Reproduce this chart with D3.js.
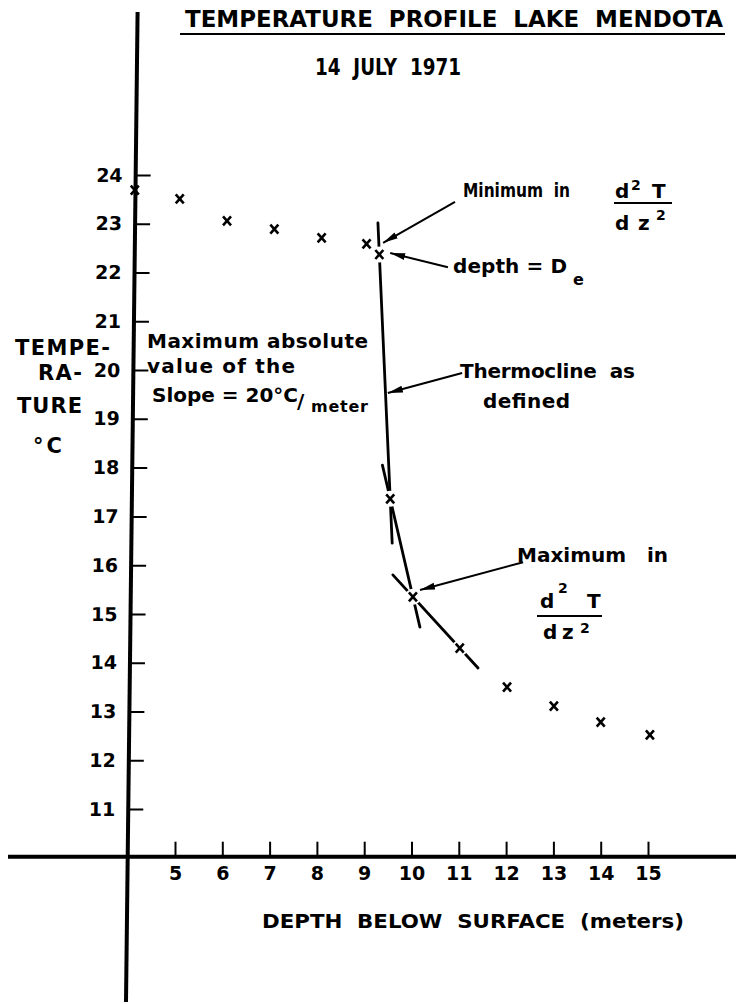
<!DOCTYPE html>
<html><head><meta charset="utf-8">
<script src="https://cdn.jsdelivr.net/npm/d3@7"></script>
<style>
body{margin:0;background:#fff}
svg{display:block;background:#fff}
text{font-family:"DejaVu Sans",sans-serif;fill:#000;white-space:pre}
</style>
</head><body>
<svg id="c" width="736" height="1004"></svg>
<script>
// ---- data ----
const depths = [4.15, 5.1, 6.1, 7.1, 8.1, 9.05, 9.32, 9.55, 10.03, 11.02, 12.02, 13.01, 14.0, 15.04];
const temps  = [23.69, 23.51, 23.06, 22.89, 22.71, 22.59, 22.37, 17.36, 15.35, 14.30, 13.50, 13.11, 12.78, 12.52];
const xTicks = [5, 6, 7, 8, 9, 10, 11, 12, 13, 14, 15];
const yTicks = [11, 12, 13, 14, 15, 16, 17, 18, 19, 20, 21, 22, 23, 24];
const axisDepth = 4;
const titleText = "TEMPERATURE  PROFILE  LAKE  MENDOTA";
const dateText = "14  JULY  1971";
const xTitle = "DEPTH  BELOW  SURFACE  (meters)";
const yTitleLines = ["TEMPE-", "RA-", "TURE", "°C"];
// tangent lines: through two measured points, extended between two temperatures
const tangents = [
  {a: 6, b: 7, tFrom: 23.02, tTo: 16.45},
  {a: 7, b: 8, tFrom: 18.05, tTo: 14.73},
  {a: 8, b: 9, tFrom: 15.80, tTo: 13.89}
];
// annotation arrows in data units [depth, temperature]
const arrows = [
  {from: [10.92, 23.45], to: [9.40, 22.61]},
  {from: [10.77, 22.11], to: [9.55, 22.40]},
  {from: [11.07, 19.94], to: [9.50, 19.53]},
  {from: [12.36, 16.06], to: [10.18, 15.49]}
];

// ---- layout ----
const svg = d3.select("#c");
const x = d3.scaleLinear().domain([5, 15]).range([175, 648]);
const y = d3.scaleLinear().domain([11, 24]).range([809, 175]);
const xAxisY = 856.7;
const tilt = 0.67; // degrees, the hand-drawn vertical axis leans slightly
const tanT = Math.tan(tilt * Math.PI / 180);

const defs = svg.append("defs");
defs.append("marker").attr("id", "ah").attr("viewBox", "-15 -4 16 8")
  .attr("refX", 0).attr("refY", 0).attr("markerWidth", 16).attr("markerHeight", 8)
  .attr("markerUnits", "userSpaceOnUse").attr("orient", "auto")
  .append("path").attr("d", "M0,0L-15,-3.4L-15,3.4Z").attr("fill", "#000");

// tangent lines
const depthAt = (tg, T) => {
  const d1 = depths[tg.a], t1 = temps[tg.a], d2 = depths[tg.b], t2 = temps[tg.b];
  return d1 + (T - t1) * (d2 - d1) / (t2 - t1);
};
svg.append("g").selectAll("line").data(tangents).join("line")
  .attr("x1", d => x(depthAt(d, d.tFrom))).attr("y1", d => y(d.tFrom))
  .attr("x2", d => x(depthAt(d, d.tTo))).attr("y2", d => y(d.tTo))
  .attr("stroke", "#000").attr("stroke-width", 2.8).attr("stroke-linecap", "round");

const pts = depths.map((d, i) => ({d, t: temps[i]}));
// white halos leave gaps in the lines around each point
svg.append("g").selectAll("circle").data(pts.slice(1)).join("circle")
  .attr("cx", p => x(p.d)).attr("cy", p => y(p.t)).attr("r", 8).attr("fill", "#fff");

// y axis
const gy = svg.append("g")
  .attr("transform", `translate(${x(axisDepth) + tanT * xAxisY},0) skewX(${-tilt})`);
gy.call(d3.axisLeft(y).tickValues(yTicks).tickSize(-15).tickPadding(13).tickFormat(d3.format("d")));
gy.select(".domain").remove();
gy.selectAll(".tick line").attr("stroke", "#000").attr("stroke-width", 2);
gy.selectAll(".tick text").attr("font-family", "DejaVu Sans").attr("font-size", 19)
  .attr("font-weight", "bold").attr("fill", "#000");
gy.append("line").attr("x1", 0).attr("x2", 0).attr("y1", 12).attr("y2", 1002)
  .attr("stroke", "#000").attr("stroke-width", 4);

// x axis
const gx = svg.append("g").attr("transform", `translate(0,${xAxisY})`);
gx.call(d3.axisBottom(x).tickValues(xTicks).tickSize(-15).tickPadding(10).tickFormat(d3.format("d")));
gx.select(".domain").remove();
gx.selectAll(".tick line").attr("stroke", "#000").attr("stroke-width", 2);
gx.selectAll(".tick text").attr("font-family", "DejaVu Sans").attr("font-size", 19)
  .attr("font-weight", "bold").attr("fill", "#000");
gx.append("line").attr("x1", 8).attr("x2", 736).attr("y1", 0).attr("y2", 0)
  .attr("stroke", "#000").attr("stroke-width", 4);

// markers
svg.append("g").selectAll("path").data(pts).join("path")
  .attr("transform", p => `translate(${x(p.d)},${y(p.t)})`)
  .attr("d", "M-4,-4.5L4,4.5M4,-4.5L-4,4.5")
  .attr("stroke", "#000").attr("stroke-width", 2.6).attr("fill", "none");

// arrows
svg.append("g").selectAll("line").data(arrows).join("line")
  .attr("x1", a => x(a.from[0])).attr("y1", a => y(a.from[1]))
  .attr("x2", a => x(a.to[0])).attr("y2", a => y(a.to[1]))
  .attr("stroke", "#000").attr("stroke-width", 2).attr("marker-end", "url(#ah)");

// texts
function txt(s, tx, ty, o = {}) {
  const t = svg.append("text").attr("x", tx).attr("y", ty).text(s)
    .attr("font-size", o.size || 20).attr("font-weight", o.weight || "bold");
  if (o.len) t.attr("textLength", o.len).attr("lengthAdjust", o.adj || "spacing");
  if (o.family) t.attr("font-family", o.family);
  return t;
}
txt(titleText, 185, 27, {size: 23, len: 538, adj: "spacingAndGlyphs"});
svg.append("line").attr("x1", 180).attr("x2", 725).attr("y1", 34).attr("y2", 34)
  .attr("stroke", "#000").attr("stroke-width", 2);
txt(dateText, 315, 75, {size: 23, len: 146, adj: "spacingAndGlyphs"});
txt(xTitle, 262, 928, {size: 20, len: 422, adj: "spacingAndGlyphs"});

const yT = [[15, 355, 95], [38, 380, 44], [17, 413, 65], [33, 453, 29]];
yTitleLines.forEach((s, i) => txt(s, yT[i][0], yT[i][1], {size: 21, len: yT[i][2]}));

txt("Maximum absolute", 147, 348, {size: 20, len: 221});
txt("value of the", 147, 373, {size: 20, len: 148});
txt("Slope = 20°C", 152, 402, {size: 20, len: 146});
txt("/", 297, 408, {size: 20});
txt("meter", 311, 412, {size: 16, len: 57});

txt("Minimum  in", 463, 197, {size: 19, len: 107, adj: "spacingAndGlyphs"});
txt("depth = D", 453, 273, {size: 20, len: 114});
txt("e", 573, 285, {size: 16});
txt("Thermocline  as", 460, 378, {size: 20, len: 175});
txt("defined", 483, 408, {size: 20, len: 87});
txt("Maximum   in", 517, 562, {size: 20, len: 151});

function frac(parts, bar) {
  parts.forEach(p => txt(p.s, p.x, p.y, {size: p.size || 20, family: p.family}));
  svg.append("line").attr("x1", bar[0]).attr("x2", bar[1]).attr("y1", bar[2]).attr("y2", bar[2])
    .attr("stroke", "#000").attr("stroke-width", 2);
}
frac([
  {s: "d", x: 615, y: 198}, {s: "2", x: 631, y: 190, size: 14},
  {s: "T", x: 652, y: 198, family: "DejaVu Serif"},
  {s: "d", x: 615, y: 230}, {s: "z", x: 638, y: 230}, {s: "2", x: 656, y: 220, size: 14}
], [614, 672, 203]);
frac([
  {s: "d", x: 540, y: 608}, {s: "2", x: 558, y: 593, size: 14},
  {s: "T", x: 587, y: 608, family: "DejaVu Serif"},
  {s: "d", x: 543, y: 639}, {s: "z", x: 562, y: 639}, {s: "2", x: 580, y: 633, size: 14}
], [537, 602, 616]);
</script>
</body></html>
